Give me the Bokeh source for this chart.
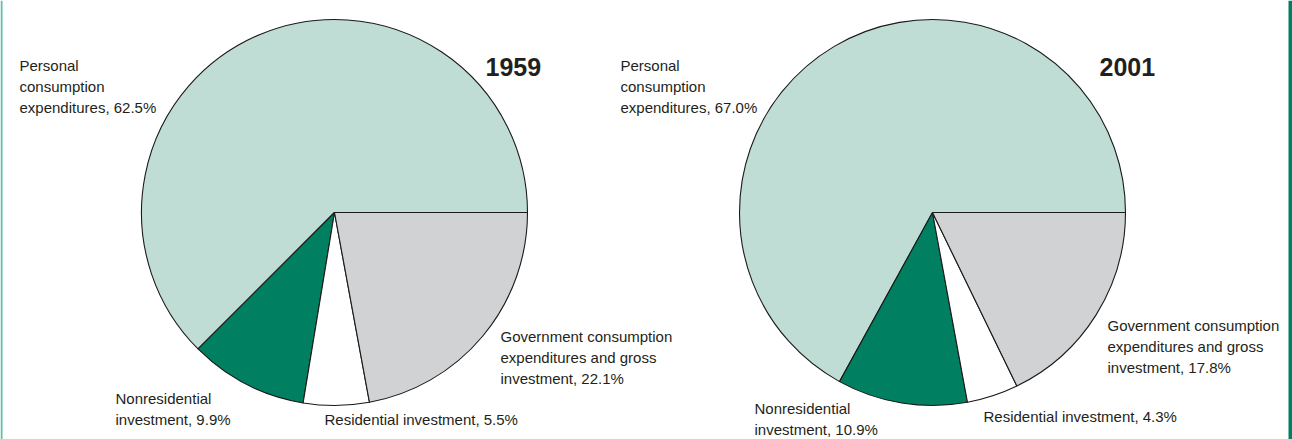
import numpy as np
from bokeh.plotting import figure
from bokeh.models import Range1d, Span, ColumnDataSource
from bokeh.core.properties import value
from bokeh.embed import file_html
from bokeh.resources import INLINE

# ---------------- data ----------------
categories = [
    "Personal consumption expenditures",
    "Nonresidential investment",
    "Residential investment",
    "Government consumption expenditures and gross investment",
]
years = ["1959", "2001"]
shares_1959 = [62.5, 9.9, 5.5, 22.1]
shares_2001 = [67.0, 10.9, 4.3, 17.8]
label_templates = [
    ["Personal", "consumption", "expenditures, {v}%"],
    ["Nonresidential", "investment, {v}%"],
    ["Residential investment, {v}%"],
    ["Government consumption", "expenditures and gross", "investment, {v}%"],
]

# ---------------- styling / layout ----------------
colors = ["#bfddd5", "#008061", "#ffffff", "#d1d2d4"]
TXT = "#231f20"
FONT = "Liberation Sans"
W, H = 1292, 439

def py(y):  # convert page pixel y to data y (data y upward)
    return H - y

centers = [(334, 212), (932, 212)]
radius = 193
year_pos = [(485, 66), (1099, 66)]
# first-line anchor positions (page pixels)
label_pos = [
    [(19, 65), (115, 398), (324, 419), (500, 336)],
    [(620, 65), (754, 408), (983, 416), (1107, 325)],
]
line_step = 21

p = figure(width=W, height=H, x_range=Range1d(0, W), y_range=Range1d(0, H),
           output_backend="svg", toolbar_location=None, min_border=0)
p.axis.visible = False
p.grid.visible = False
p.outline_line_color = None
p.background_fill_color = "white"
p.border_fill_color = "white"

for k, shares in enumerate([shares_1959, shares_2001]):
    fr = np.array(shares) / 100.0
    ends = np.cumsum(fr) * 2 * np.pi
    starts = np.concatenate([[0.0], ends[:-1]])
    cx, cy = centers[k]
    src = ColumnDataSource(dict(
        x=[cx] * len(shares), y=[py(cy)] * len(shares),
        start=starts, end=ends, color=colors, cat=categories))
    p.wedge(x="x", y="y", radius=radius, start_angle="start", end_angle="end",
            fill_color="color", line_color="#1a1a1a", line_width=1.1, source=src)

    # labels
    xs, ys, ts = [], [], []
    for i, tmpl in enumerate(label_templates):
        lx, ly = label_pos[k][i]
        for j, line in enumerate(tmpl):
            xs.append(lx)
            ys.append(py(ly + j * line_step))
            ts.append(line.format(v=f"{shares[i]:.1f}"))
    p.text(x=xs, y=ys, text=ts, text_font=value(FONT), text_font_size="15px",
           text_color=TXT, text_baseline="alphabetic", text_align="left")

    yx, yy = year_pos[k]
    p.text(x=[yx], y=[py(yy)], text=[years[k]], text_font=value(FONT),
           text_font_size="25px", text_font_style="bold", text_color=TXT,
           text_baseline="alphabetic", text_align="left")

# decorative page borders
p.add_layout(Span(location=1, dimension="height", line_color="#5dbfa9", line_width=2))
p.add_layout(Span(location=W - 2, dimension="height", line_color="#008061", line_width=4))

open("out.html", "w").write(file_html(p, INLINE))
